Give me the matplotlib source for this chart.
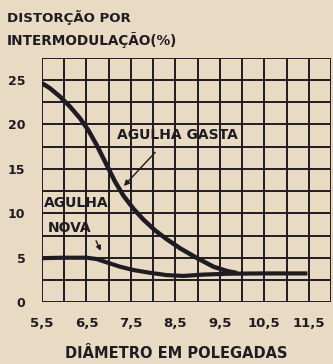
import matplotlib.pyplot as plt
import numpy as np

# curve readings: diameter (inches) vs intermodulation distortion (%)
gasta_diam = [5.5, 5.68, 5.905, 6.13, 6.355, 6.54, 6.73, 6.92, 7.03, 7.14, 7.33,
              7.56, 7.78, 8.05, 8.315, 8.61, 8.99, 9.36, 9.66, 9.89]
gasta_dist = [24.65, 24.08, 23.14, 22.01, 20.7, 19.38, 17.69, 15.8, 14.7, 13.6, 12.0,
              10.5, 9.3, 8.05, 7.05, 6.05, 4.95, 3.98, 3.5, 3.27]

nova_diam = [5.5, 5.98, 6.51, 6.73, 6.96, 7.26, 7.56, 7.93, 8.31, 8.68,
             9.13, 9.73, 10.41, 11.47]
nova_dist = [4.95, 5.0, 5.0, 4.85, 4.47, 3.98, 3.61, 3.3, 3.04, 2.95,
             3.1, 3.2, 3.23, 3.23]

xticks = [5.5, 6.5, 7.5, 8.5, 9.5, 10.5, 11.5]
xtick_labels = ["5,5", "6,5", "7,5", "8,5", "9,5", "10,5", "11,5"]
yticks = [0, 5, 10, 15, 20, 25]
ytick_labels = ["0", "5", "10", "15", "20", "25"]

paper = "#e9dac3"
ink = "#1f1b22"

plt.rcParams["font.family"] = "DejaVu Sans"
plt.rcParams["font.weight"] = "bold"

fig = plt.figure(figsize=(3.33, 3.64), dpi=100, facecolor=paper)
ax = fig.add_axes([0.126, 0.170, 0.868, 0.671], facecolor=paper)

ax.set_xlim(5.5, 12.0)
ax.set_ylim(0, 27.5)

# square grid, 0.5 in by 2.5 %
for gx in np.arange(5.5, 12.01, 0.5):
    ax.axvline(gx, color=ink, lw=1.4, zorder=1)
for gy in np.arange(0, 27.51, 2.5):
    ax.axhline(gy, color=ink, lw=1.4, zorder=1)
for s in ax.spines.values():
    s.set_visible(False)

ax.plot(gasta_diam, gasta_dist, color=ink, lw=3.2, solid_capstyle="butt",
        solid_joinstyle="round", zorder=3)
ax.plot(nova_diam, nova_dist, color=ink, lw=3.0, solid_capstyle="butt",
        solid_joinstyle="round", zorder=3)

ax.set_xticks(xticks)
ax.set_xticklabels(xtick_labels)
ax.set_yticks(yticks)
ax.set_yticklabels(ytick_labels)
ax.tick_params(length=0, colors=ink)
ax.tick_params(axis="x", pad=11, labelsize=9.5)
ax.tick_params(axis="y", pad=12, labelsize=9)

ax.text(8.54, 18.8, "AGULHA GASTA", ha="center", va="center", fontsize=10, color=ink, zorder=4)
ax.annotate("", xy=(7.3, 12.85), xytext=(8.09, 17.1),
            arrowprops=dict(arrowstyle="-|>", color=ink, lw=1.0, mutation_scale=8), zorder=4)
ax.text(5.55, 11.2, "AGULHA", ha="left", va="center", fontsize=10, color=ink, zorder=4)
ax.text(6.12, 8.4, "NOVA", ha="center", va="center", fontsize=10, color=ink, zorder=4)
ax.annotate("", xy=(6.85, 5.5), xytext=(6.69, 7.2),
            arrowprops=dict(arrowstyle="-|>", color=ink, lw=1.0, mutation_scale=7), zorder=4)

fig.text(0.021, 0.953, "DISTORÇÃO POR", ha="left", va="center", fontsize=9.6, color=ink)
fig.text(0.021, 0.890, "INTERMODULAÇÃO(%)", ha="left", va="center", fontsize=9.8, color=ink)
fig.text(0.529, 0.030, "DIÂMETRO EM POLEGADAS", ha="center", va="center", fontsize=10.5, color=ink)

fig.savefig("out.png", dpi=100, facecolor=paper)
